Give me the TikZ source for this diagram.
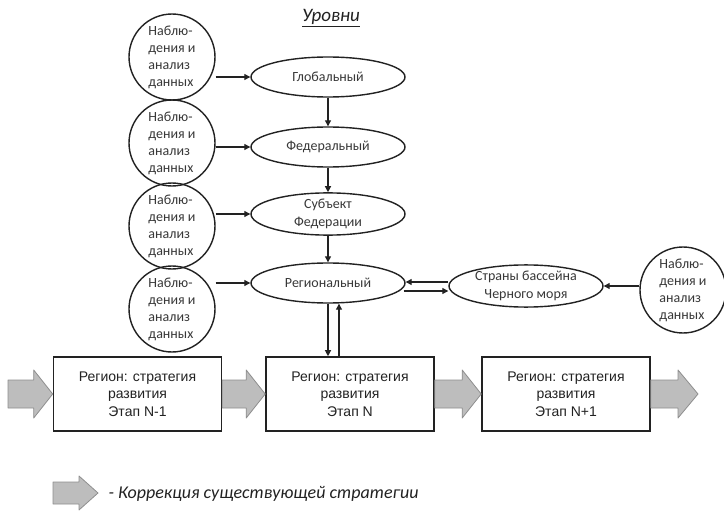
\documentclass[tikz,border=0pt]{standalone}
\usepackage{fontspec}
\setmainfont{Carlito}
\newfontfamily\boxfont{Liberation Sans}
\usetikzlibrary{shapes.geometric,arrows.meta,calc}
\definecolor{ink}{HTML}{222222}
\definecolor{gfill}{HTML}{BDBDBD}
\definecolor{gline}{HTML}{8E8E8E}
\tikzset{
  obs/.style={circle,draw=ink,line width=1.4pt,minimum size=86pt,inner sep=0pt,align=left,
    font=\fontsize{14}{17}\selectfont,text=ink!90},
  lvl/.style={ellipse,draw=ink,line width=1.4pt,minimum width=154pt,minimum height=40pt,inner sep=0pt,align=center,
    font=\fontsize{14}{18}\selectfont,text=ink!90},
  stage/.style={rectangle,draw=ink,line width=1.6pt,minimum width=168pt,minimum height=74pt,inner sep=0pt,align=center,
    font=\boxfont\fontsize{14}{17.5}\selectfont,text=ink},
  arr/.style={draw=ink,line width=1.2pt,-{Triangle[length=6pt,width=6pt]}},
  garrow/.style={fill=gfill,draw=gline,line width=0.8pt,line join=round}
}
\newcommand{\grayarrow}[5]{% start, tip, shaft half, head half, head length
  \filldraw[garrow] ($(#1)+(0,-#3)$) -- ($(#2)+(-#5,-#3)$) -- ($(#2)+(-#5,-#4)$) -- (#2)
    -- ($(#2)+(-#5,#4)$) -- ($(#2)+(-#5,#3)$) -- ($(#1)+(0,#3)$) -- cycle;}
\begin{document}
\begin{tikzpicture}[x=1pt,y=-1pt]
\useasboundingbox[fill=white] (0,0) rectangle (724,519);

% title
\node[font=\itshape\fontsize{19}{21}\selectfont,text=ink] (title) at (331,18) {\underline{Уровни}};

% level ellipses
\node[lvl] (g) at (328,77) {Глобальный};
\node[lvl] (f) at (328,147) {Федеральный};
\node[lvl] (sf) at (328,214) {Субъект\\Федерации};
\node[lvl] (r) at (328,283) {Региональный};
\node[lvl] (s) at (526,286) {Страны бассейна\\Черного моря};

% observation circles
\node[obs] (c1) at (172,57) {Наблю-\\дения и\\анализ\\данных};
\node[obs] (c2) at (172,143) {Наблю-\\дения и\\анализ\\данных};
\node[obs] (c3) at (172,226) {Наблю-\\дения и\\анализ\\данных};
\node[obs] (c4) at (172,309) {Наблю-\\дения и\\анализ\\данных};
\node[obs] (rc) at (683,290) {Наблю-\\дения и\\анализ\\данных};

% circle -> ellipse arrows
\draw[arr] (c1.east |- g.west) -- (g.west);
\draw[arr] (c2.east |- f.west) -- (f.west);
\draw[arr] (c3.east |- sf.west) -- (sf.west);
\draw[arr] (c4.east |- r.west) -- (r.west);
\draw[arr] (rc.west |- s.east) -- (s.east);

% level chain
\draw[arr] (g.south) -- (f.north);
\draw[arr] (f.south) -- (sf.north);
\draw[arr] (sf.south) -- (r.north);

% stage boxes
\node[stage] (b1) at (137.5,394) {Регион: стратегия\\развития\\Этап N-1};
\node[stage] (b2) at (350,394) {Регион: стратегия\\развития\\Этап N};
\node[stage] (b3) at (566,394) {Регион: стратегия\\развития\\Этап N+1};

% regional <-> black sea countries
\coordinate (up) at ($(s.west)+(0,-4)$);
\coordinate (lo) at ($(r.east)+(-2,8)$);
\draw[arr] (up) -- (up -| r.east);
\draw[arr] (lo) -- (lo -| s.west);

% regional <-> stage N
\coordinate (rs2) at ($(r.south)+(11,0)$);
\draw[arr] (r.south) -- (r.south |- b2.north);
\draw[arr] (rs2 |- b2.north) -- (rs2);

% gray block arrows
\coordinate (a0) at (8,394);
\coordinate (a4) at (698,394);
\grayarrow{a0}{b1.west}{14}{24}{19}
\grayarrow{b1.east}{b2.west}{14}{24}{19}
\grayarrow{b2.east}{b3.west}{14}{24}{19}
\grayarrow{b3.east}{a4}{14}{24}{20}

% legend
\coordinate (lgS) at (53,493);
\coordinate (lgT) at (98,493);
\grayarrow{lgS}{lgT}{11}{17}{19}
\node[anchor=west,font=\itshape\fontsize{18}{20}\selectfont,text=ink] (lgtext) at (105,494) {- Коррекция существующей стратегии};
\end{tikzpicture}
\end{document}
